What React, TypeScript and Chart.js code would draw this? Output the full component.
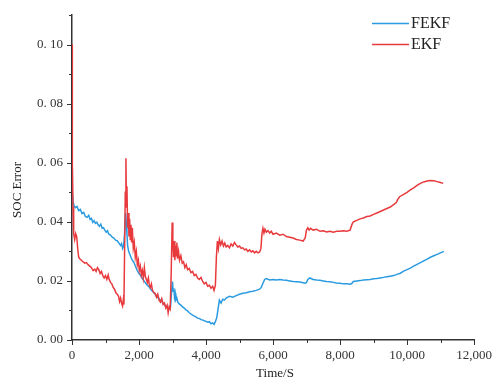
import React, { useEffect, useRef } from "react";
import { Chart, registerables } from "chart.js";

Chart.register(...registerables);

// EKF estimation error over time
const ekfTime = [
  0, 5, 15, 30, 50, 80, 110, 140, 170, 200, 230, 280, 330, 380, 430, 480, 530, 580, 630, 680,
  720, 760, 800, 840, 880, 920, 960, 1000, 1040, 1080, 1110, 1150, 1190, 1230, 1270, 1310, 1350,
  1390, 1420, 1450, 1480, 1510, 1530, 1550, 1570, 1590, 1610, 1625, 1640, 1660, 1680, 1700, 1720,
  1740, 1760, 1780, 1800, 1830, 1860, 1890, 1920, 1950, 1980, 2010, 2040, 2070, 2100, 2130, 2160,
  2190, 2220, 2250, 2280, 2310, 2340, 2370, 2400, 2440, 2480, 2520, 2560, 2600, 2640, 2680, 2720,
  2760, 2800, 2840, 2870, 2900, 2930, 2960, 2990, 3010, 3030, 3050, 3070, 3090, 3110, 3130, 3150,
  3180, 3210, 3250, 3290, 3330, 3370, 3410, 3450, 3500, 3550, 3600, 3650, 3700, 3750, 3800, 3850,
  3900, 3950, 4000, 4050, 4100, 4150, 4200, 4240, 4280, 4310, 4340, 4370, 4400, 4440, 4480, 4520,
  4560, 4600, 4650, 4700, 4750, 4800, 4850, 4900, 4950, 5000, 5050, 5100, 5150, 5200, 5250, 5300,
  5350, 5400, 5450, 5500, 5550, 5600, 5640, 5670, 5700, 5730, 5760, 5800, 5850, 5900, 5950, 6000,
  6100, 6200, 6300, 6400, 6500, 6600, 6700, 6800, 6900, 6960, 7000, 7040, 7080, 7120, 7200, 7300,
  7400, 7500, 7600, 7700, 7800, 7900, 8000, 8100, 8200, 8300, 8360, 8400, 8500, 8600, 8700, 8800,
  8900, 9000, 9100, 9200, 9300, 9400, 9500, 9600, 9680, 9720, 9780, 9900, 10000, 10100, 10200,
  10300, 10400, 10500, 10600, 10700, 10800, 10900, 11000, 11080,
];
const ekfError = [
  0.1, 0.077, 0.06, 0.045, 0.036, 0.034, 0.036, 0.035, 0.031, 0.028, 0.0275, 0.027, 0.0265, 0.026,
  0.0262, 0.0255, 0.025, 0.0245, 0.0235, 0.024, 0.0232, 0.0245, 0.0238, 0.0225, 0.0232, 0.0218,
  0.021, 0.0218, 0.0205, 0.022, 0.0205, 0.0195, 0.019, 0.0178, 0.0172, 0.016, 0.0155, 0.0148, 0.013,
  0.0142, 0.0125, 0.0115, 0.0135, 0.012, 0.03, 0.05, 0.0615, 0.045, 0.052, 0.038, 0.043, 0.035,
  0.041, 0.034, 0.039, 0.033, 0.038, 0.031, 0.033, 0.028, 0.03, 0.0255, 0.027, 0.0235, 0.025, 0.022,
  0.0235, 0.021, 0.0245, 0.0215, 0.0205, 0.0195, 0.021, 0.0185, 0.0178, 0.019, 0.017, 0.016, 0.0158,
  0.0145, 0.0155, 0.0135, 0.0128, 0.014, 0.012, 0.0125, 0.0108, 0.0118, 0.0092, 0.0112, 0.0105,
  0.022, 0.0398, 0.034, 0.028, 0.0335, 0.027, 0.032, 0.0285, 0.033, 0.0275, 0.03, 0.027, 0.0285,
  0.026, 0.0265, 0.0245, 0.0255, 0.0238, 0.0242, 0.0228, 0.0232, 0.0218, 0.0222, 0.021, 0.0205,
  0.0212, 0.0198, 0.019, 0.0195, 0.0182, 0.0185, 0.0175, 0.0182, 0.0168, 0.0185, 0.028, 0.0335,
  0.031, 0.034, 0.0322, 0.0335, 0.0318, 0.0328, 0.0315, 0.032, 0.0312, 0.0325, 0.0318, 0.033,
  0.0322, 0.0315, 0.0318, 0.031, 0.0312, 0.0305, 0.0308, 0.03, 0.0305, 0.0298, 0.0302, 0.0295,
  0.03, 0.0295, 0.0298, 0.031, 0.036, 0.0378, 0.0362, 0.0375, 0.0365, 0.037, 0.0362, 0.0368, 0.0358,
  0.0362, 0.0355, 0.0358, 0.035, 0.0348, 0.0345, 0.034, 0.0338, 0.0335, 0.0345, 0.0372, 0.038,
  0.0372, 0.0378, 0.0372, 0.0375, 0.0368, 0.037, 0.0366, 0.0368, 0.0365, 0.0368, 0.0368, 0.037,
  0.0368, 0.0372, 0.0392, 0.04, 0.0405, 0.041, 0.0413, 0.0418, 0.042, 0.0425, 0.043, 0.0435, 0.044,
  0.0445, 0.045, 0.0458, 0.0465, 0.0475, 0.0485, 0.0493, 0.05, 0.0508, 0.0515, 0.0523, 0.053,
  0.0535, 0.0538, 0.054, 0.0539, 0.0536, 0.0533, 0.053,
];

// FEKF estimation error over time
const fekfTime = [
  0, 10, 30, 60, 100, 150, 200, 250, 300, 350, 400, 450, 500, 540, 580, 620, 660, 700, 740, 780,
  820, 860, 900, 940, 980, 1020, 1060, 1100, 1150, 1200, 1250, 1300, 1350, 1400, 1450, 1480, 1510,
  1540, 1570, 1600, 1620, 1640, 1660, 1690, 1720, 1760, 1800, 1850, 1900, 1950, 2000, 2050, 2100,
  2150, 2200, 2250, 2300, 2350, 2400, 2450, 2500, 2550, 2600, 2650, 2700, 2750, 2800, 2850, 2900,
  2940, 2970, 3000, 3020, 3040, 3060, 3080, 3100, 3130, 3160, 3200, 3250, 3300, 3350, 3400, 3450,
  3500, 3550, 3600, 3650, 3700, 3750, 3800, 3850, 3900, 3950, 4000, 4050, 4100, 4150, 4200, 4240,
  4280, 4320, 4360, 4400, 4450, 4500, 4550, 4600, 4650, 4700, 4800, 4900, 5000, 5100, 5200, 5300,
  5400, 5500, 5600, 5650, 5700, 5750, 5800, 5900, 6000, 6100, 6200, 6300, 6400, 6500, 6600, 6700,
  6800, 6900, 6960, 7000, 7040, 7100, 7200, 7300, 7400, 7500, 7600, 7700, 7800, 7900, 8000, 8100,
  8200, 8300, 8350, 8400, 8500, 8600, 8700, 8800, 8900, 9000, 9100, 9200, 9300, 9400, 9500, 9600,
  9700, 9800, 9900, 10000, 10100, 10200, 10300, 10400, 10500, 10600, 10700, 10800, 10900, 11000,
  11100,
];
const fekfError = [
  0.058, 0.05, 0.047, 0.0455, 0.0448, 0.0452, 0.0438, 0.0442, 0.0428, 0.0432, 0.0418, 0.0415, 0.0422,
  0.0408, 0.0412, 0.0398, 0.0404, 0.0395, 0.0399, 0.039, 0.0385, 0.0392, 0.0378, 0.038, 0.0372,
  0.0365, 0.037, 0.0358, 0.0355, 0.0348, 0.0345, 0.0338, 0.0336, 0.0328, 0.032, 0.0326, 0.031,
  0.0318, 0.036, 0.043, 0.04, 0.036, 0.032, 0.03, 0.0292, 0.028, 0.027, 0.0262, 0.0248, 0.0235,
  0.0225, 0.0218, 0.0208, 0.02, 0.0192, 0.0185, 0.018, 0.0172, 0.0165, 0.016, 0.0152, 0.0145, 0.014,
  0.0132, 0.0128, 0.012, 0.0115, 0.0108, 0.0105, 0.011, 0.016, 0.0198, 0.0165, 0.0175, 0.0145,
  0.0158, 0.0135, 0.0142, 0.0128, 0.0122, 0.0118, 0.0112, 0.0108, 0.0102, 0.0099, 0.0092, 0.0088,
  0.0084, 0.0081, 0.0078, 0.0074, 0.0073, 0.0069, 0.0068, 0.0065, 0.0063, 0.006, 0.0062, 0.0055,
  0.0058, 0.0053, 0.0062, 0.0075, 0.0105, 0.0135, 0.0125, 0.0138, 0.0135, 0.0142, 0.0145, 0.0148,
  0.0145, 0.015, 0.0155, 0.0158, 0.016, 0.0163, 0.0165, 0.0168, 0.0172, 0.0178, 0.0192, 0.0205,
  0.0208, 0.0203, 0.0205, 0.0203, 0.0205, 0.0203, 0.0202, 0.02, 0.0198, 0.0197, 0.0196, 0.0194,
  0.0192, 0.0195, 0.0205, 0.021, 0.0205, 0.0203, 0.0202, 0.02, 0.0198, 0.0197, 0.0195, 0.0193,
  0.0192, 0.019, 0.019, 0.0189, 0.0191, 0.0198, 0.02, 0.0201, 0.0203, 0.0204, 0.0205, 0.0207,
  0.0208, 0.021, 0.0212, 0.0214, 0.0216, 0.0218, 0.0222, 0.0226, 0.0233, 0.0238, 0.0243, 0.025,
  0.0256, 0.0262, 0.0268, 0.0274, 0.028, 0.0285, 0.029, 0.0295, 0.03, 0.0304,
];

const seriesNames = ["FEKF", "EKF"];
const seriesColors = ["#2a9be0", "#e8393c"];

const xTitle = "Time/S";
const yTitle = "SOC Error";

const SERIF = "'Liberation Serif', 'DejaVu Serif', serif";
const AXIS_COLOR = "#333333";

// Tick marks (major + minor), axis titles and the in-plot legend
const decorPlugin = {
  id: "decor",
  afterDraw(chart: any) {
    const { ctx, chartArea, scales } = chart;
    const xs = scales.x;
    const ys = scales.y;
    ctx.save();
    ctx.strokeStyle = AXIS_COLOR;
    ctx.lineWidth = 1;
    for (let i = 0; i <= 12; i++) {
      const px = Math.round(xs.getPixelForValue(i * 1000)) + 0.5;
      const len = i % 2 === 0 ? 5 : 3;
      ctx.beginPath();
      ctx.moveTo(px, chartArea.bottom);
      ctx.lineTo(px, chartArea.bottom + len);
      ctx.stroke();
    }
    for (let i = 0; i <= 11; i++) {
      const py = Math.round(ys.getPixelForValue(i / 100)) + 0.5;
      const len = i % 2 === 0 ? 5 : 3;
      ctx.beginPath();
      ctx.moveTo(chartArea.left - len, py);
      ctx.lineTo(chartArea.left, py);
      ctx.stroke();
    }

    // axis titles
    ctx.fillStyle = "#222222";
    ctx.font = `13px ${SERIF}`;
    ctx.textAlign = "center";
    ctx.textBaseline = "middle";
    ctx.fillText(xTitle, 275, 374);
    ctx.save();
    ctx.translate(18, 190);
    ctx.rotate(-Math.PI / 2);
    ctx.fillText(yTitle, 0, 0);
    ctx.restore();

    // legend
    ctx.font = `16px ${SERIF}`;
    ctx.textAlign = "left";
    const rows = [23, 44];
    seriesNames.forEach((name, i) => {
      ctx.strokeStyle = seriesColors[i];
      ctx.lineWidth = 1.3;
      ctx.beginPath();
      ctx.moveTo(372, rows[i] + 0.5);
      ctx.lineTo(409, rows[i] + 0.5);
      ctx.stroke();
      ctx.fillStyle = "#222222";
      ctx.fillText(name, 411, rows[i] + 1);
    });
    ctx.restore();
  },
};

export default function App() {
  const canvasRef = useRef<HTMLCanvasElement | null>(null);

  useEffect(() => {
    if (!canvasRef.current) return;
    const toPoints = (t: number[], v: number[]) => t.map((x, i) => ({ x, y: v[i] }));
    const chart = new Chart(canvasRef.current, {
      type: "line",
      data: {
        datasets: [
          {
            label: seriesNames[0],
            data: toPoints(fekfTime, fekfError),
            borderColor: seriesColors[0],
            borderWidth: 1.5,
            pointRadius: 0,
            tension: 0,
            order: 1,
          },
          {
            label: seriesNames[1],
            data: toPoints(ekfTime, ekfError),
            borderColor: seriesColors[1],
            borderWidth: 1.5,
            pointRadius: 0,
            tension: 0,
            order: 0,
          },
        ],
      },
      options: {
        animation: false,
        responsive: true,
        maintainAspectRatio: false,
        layout: { padding: { left: 0, right: 21, top: 15, bottom: 0 } },
        plugins: {
          legend: { display: false },
          tooltip: { enabled: false },
        },
        scales: {
          x: {
            type: "linear",
            min: 0,
            max: 12000,
            afterFit: (s: any) => {
              s.height = 43;
            },
            border: { display: true, color: AXIS_COLOR, width: 1.5 },
            grid: {
              drawOnChartArea: false,
              drawTicks: true,
              tickLength: 5,
              color: "rgba(0,0,0,0)",
            },
            ticks: {
              stepSize: 1000,
              autoSkip: false,
              maxRotation: 0,
              padding: 3,
              color: "#333333",
              font: { family: SERIF, size: 13 },
              callback: (v: any) => (Number(v) % 2000 === 0 ? Number(v).toLocaleString("en-US") : ""),
            },
          },
          y: {
            type: "linear",
            min: 0,
            max: 0.11,
            afterFit: (s: any) => {
              s.width = 72;
            },
            border: { display: true, color: AXIS_COLOR, width: 1.5 },
            grid: {
              drawOnChartArea: false,
              drawTicks: true,
              tickLength: 5,
              color: "rgba(0,0,0,0)",
            },
            ticks: {
              stepSize: 0.01,
              autoSkip: false,
              padding: 4,
              color: "#333333",
              font: { family: SERIF, size: 13 },
              callback: (v: any) => {
                const i = Math.round(Number(v) * 100);
                return i % 2 === 0 ? "0. " + String(i).padStart(2, "0") : "";
              },
            },
          },
        },
      },
      plugins: [decorPlugin],
    });
    return () => chart.destroy();
  }, []);

  return (
    <div style={{ position: "fixed", left: 0, top: 0, width: 495, height: 383, background: "#ffffff" }}>
      <canvas ref={canvasRef} />
    </div>
  );
}
